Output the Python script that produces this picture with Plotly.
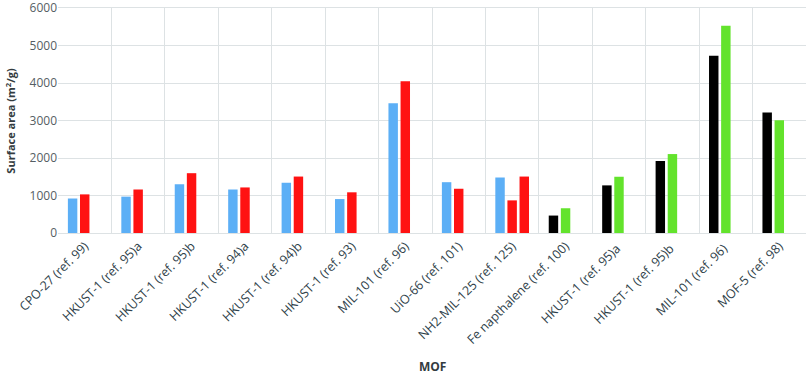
import plotly.graph_objects as go

# categories along the x axis
mofs = ["CPO-27 (ref. 99)", "HKUST-1 (ref. 95)a", "HKUST-1 (ref. 95)b", "HKUST-1 (ref. 94)a",
        "HKUST-1 (ref. 94)b", "HKUST-1 (ref. 93)", "MIL-101 (ref. 96)", "UiO-66 (ref. 101)",
        "NH2-MIL-125 (ref. 125)", "Fe napthalene (ref. 100)", "HKUST-1 (ref. 95)a ",
        "HKUST-1 (ref. 95)b ", "MIL-101 (ref. 96) ", "MOF-5 (ref. 98)"]

# surface areas (m2/g)
series_1 = [920, 970, 1300, 1160, 1340, 905, 3460, 1355, 1480, 465, 1270, 1920, 4730, 3215]
series_2 = [1030, 1160, 1595, 1215, 1505, 1085, 4050, 1180, 870, 660, 1500, 2105, 5525, 3010]
series_3 = [None] * 8 + [1505] + [None] * 5

BLUE, RED, BLACK, GREEN = "#5caff6", "#ff1212", "#000000", "#63e32c"
cols_1 = [BLUE] * 9 + [BLACK] * 5
cols_2 = [RED] * 9 + [GREEN] * 5

fig = go.Figure()
for vals, cols in [(series_1, cols_1), (series_2, cols_2), (series_3, [RED] * 14)]:
    fig.add_trace(go.Bar(x=mofs, y=vals, marker=dict(color=cols, line=dict(width=0))))

fig.update_layout(
    width=808, height=374,
    margin=dict(l=58, r=2, t=8, b=141),
    barmode="group", bargap=0.32, bargroupgap=0.22,
    showlegend=False,
    plot_bgcolor="white", paper_bgcolor="white",
    font=dict(family="Open Sans", color="#3a4852"),
)
fig.update_xaxes(
    automargin=False,
    tickangle=-45, tickfont=dict(size=12.5, color="#2f3f4a"),
    showgrid=True, gridcolor="#dde2e4", gridwidth=1.3, tickson="boundaries", ticks="",
    showline=True, linecolor="#dde2e4", mirror=True,
)
fig.update_yaxes(
    automargin=False, ticklabeloverflow="allow",
    range=[0, 6000], dtick=1000, tickfont=dict(size=12, color="#555e63"),
    showgrid=True, gridcolor="#dde2e4", gridwidth=1.3, zeroline=False,
)
fig.add_annotation(text="<b>MOF</b>", xref="paper", yref="paper", x=0.5, y=-0.593,
                   yanchor="middle", showarrow=False, font=dict(size=12, color="#333b40"))
fig.add_annotation(text="<b>Surface area (m<sup>2</sup>/g)</b>", xref="paper", yref="paper",
                   x=-0.064, y=0.5, textangle=-90, xanchor="center", showarrow=False,
                   font=dict(size=11, color="#333b40"))

# page body has a default margin; drop it so the figure fills the window
fig.write_html("out.html", config={"displayModeBar": False},
               post_script="document.body.style.margin='0';")
